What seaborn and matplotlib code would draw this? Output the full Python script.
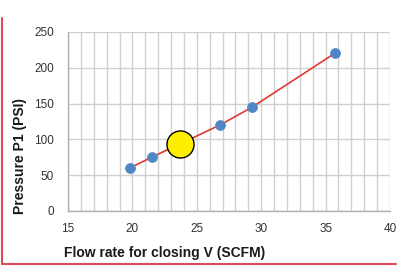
import matplotlib
matplotlib.use("Agg")
import matplotlib.pyplot as plt
import seaborn as sns
import pandas as pd
from matplotlib.lines import Line2D
from matplotlib.ticker import MultipleLocator

flow = [19.8, 21.5, 26.8, 29.3, 35.7]
pressure = [60, 75, 120, 145, 220]
op_flow = [23.7]
op_pressure = [93]
x_ticks = [15, 20, 25, 30, 35, 40]
y_ticks = [0, 50, 100, 150, 200, 250]

sns.set_style("white")
plt.rcParams['font.family'] = ['Liberation Sans', 'DejaVu Sans']

df = pd.DataFrame({"flow": flow, "pressure": pressure})
op = pd.DataFrame({"flow": op_flow, "pressure": op_pressure})

fig = plt.figure(figsize=(4, 2.66), dpi=100)
ax = fig.add_axes([0.17, 0.207, 0.805, 0.673])

sns.lineplot(data=df, x="flow", y="pressure", ax=ax, color="#e03a30", lw=1.2, zorder=3)
sns.scatterplot(data=df, x="flow", y="pressure", ax=ax, color="#4f86c6", s=50,
                edgecolor="#4f86c6", zorder=4)
sns.scatterplot(data=op, x="flow", y="pressure", ax=ax, color="#ffee00", s=380,
                edgecolor="black", linewidth=1.0, zorder=5)

ax.set_xlim(15, 40)
ax.set_ylim(0, 250)
ax.set_xticks(x_ticks)
ax.set_yticks(y_ticks)
ax.xaxis.set_minor_locator(MultipleLocator(1))
ax.grid(True, which="both", axis="x", color="#d0d0d0", lw=1.0)
ax.grid(True, which="major", axis="y", color="#d0d0d0", lw=1.0)
ax.set_axisbelow(True)

for s in ["top", "right"]:
    ax.spines[s].set_visible(False)
for s in ["left", "bottom"]:
    ax.spines[s].set_color("#b0b0b0")
    ax.spines[s].set_linewidth(1.0)

ax.tick_params(axis="both", which="major", length=4, color="#b0b0b0",
               labelsize=8.5, labelcolor="#333333", direction="out")
ax.tick_params(axis="x", which="minor", length=0)
ax.tick_params(axis="y", pad=6)
ax.tick_params(axis="x", pad=5)

ax.set_xlabel("Flow rate for closing V (SCFM)", fontsize=10, fontweight="bold",
              color="#1a1a1a")
ax.set_ylabel("Pressure P1 (PSI)", fontsize=10, fontweight="bold",
              color="#1a1a1a")
ax.xaxis.set_label_coords(0.30, -0.196)
ax.yaxis.set_label_coords(-0.127, 0.307)

red = "#dc4a55"
fig.add_artist(Line2D([0.006, 0.006], [0.008, 0.932], color=red, lw=1.5,
                      transform=fig.transFigure))
fig.add_artist(Line2D([0.006, 0.99], [0.008, 0.008], color=red, lw=1.5,
                      transform=fig.transFigure))

fig.savefig("out.png", dpi=100)
